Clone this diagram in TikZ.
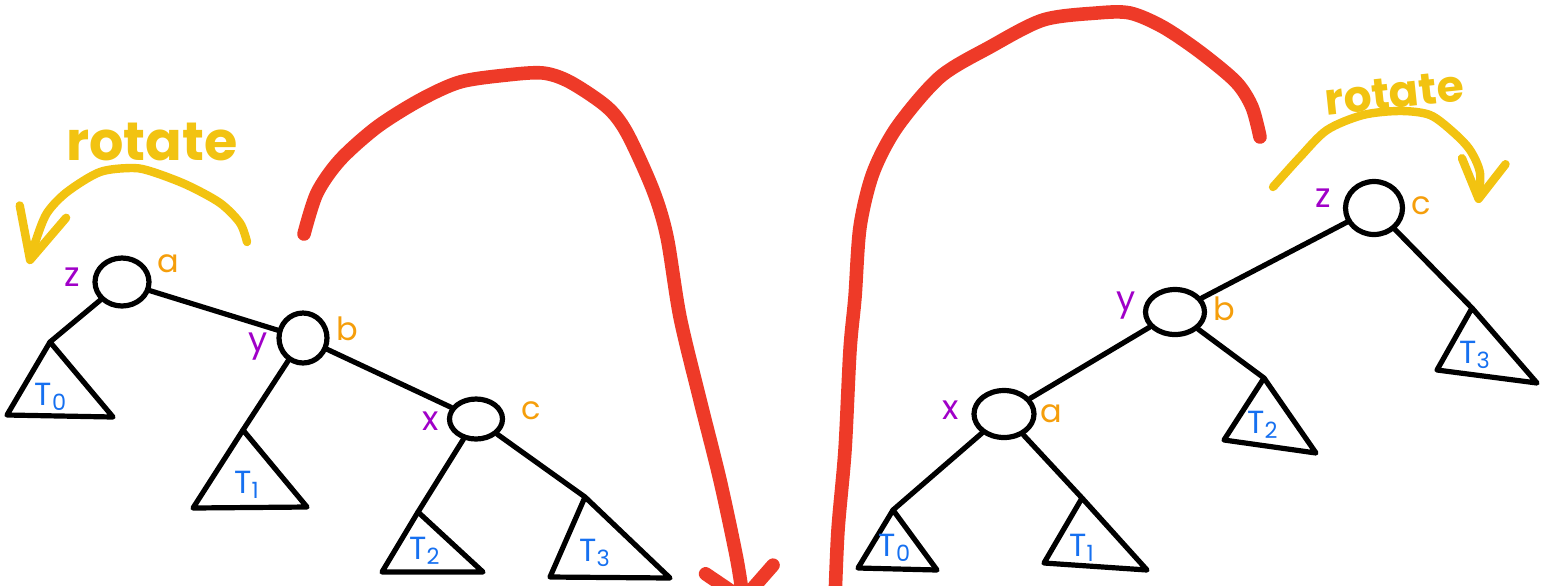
\documentclass[tikz,border=0pt]{standalone}
\usepackage{fontspec}
\setmainfont{Poppins}
\usetikzlibrary{
    shapes.geometric,
    arrows.meta
}
\definecolor{rojo}{HTML}{EE3A28}
\definecolor{amarillo}{HTML}{F2C311}
\definecolor{morado}{HTML}{A000C8}
\definecolor{naranja}{HTML}{F59E0B}
\definecolor{azul}{HTML}{1670F0}
\tikzset{
    nodo/.style={
        draw,
        ellipse,
        line width=2.6pt,
        inner sep=0pt
    },
    rama/.style={line width=2.6pt},
    sub/.style={draw, line width=2.6pt},
    clave/.style={text=morado, inner sep=0pt, font=\fontsize{17}{17}\selectfont},
    valor/.style={text=naranja, inner sep=0pt, font=\fontsize{16}{16}\selectfont},
    arbol/.style={text=azul, inner sep=0pt, font=\fontsize{16}{16}\selectfont},
    giro/.style={text=amarillo, inner sep=0pt, font=\bfseries\fontsize{27}{27}\selectfont},
    flecha/.style={amarillo, line width=4.2pt},
    salto/.style={rojo, line width=6.8pt}
}

\begin{document}
\begin{tikzpicture}[
    x=0.5pt, y=-0.5pt,
    line cap=round, line join=round
]
    \useasboundingbox (0,0) rectangle (1551,585);
    \clip (0,0) rectangle (1551,585);

    % Arbol izquierdo
    \node[nodo, minimum width=27pt, minimum height=24pt] (lz) at (122,282) {};
    \node[nodo, minimum width=24pt, minimum height=25pt] (ly) at (303,338) {};
    \node[nodo, minimum width=26.5pt, minimum height=20pt] (lx) at (476,419) {};

    \node[clave] (lzk) at (72,277)  {z};
    \node[valor] (lzv) at (168,264) {a};
    \node[clave] (lyk) at (258,347) {y};
    \node[valor] (lyv) at (347,329) {b};
    \node[clave] (lxk) at (431,421) {x};
    \node[valor] (lxv) at (531,411) {c};

    % Subarboles
    \coordinate (lt0) at (50,342);
    \coordinate (lt1) at (243,430);
    \coordinate (lt2) at (418,512);
    \coordinate (lt3) at (585,497);
    \draw[sub] (lt0) -- (7,415) -- (113,417) -- cycle;
    \draw[sub] (lt1) -- (193,508) -- (307,507) -- cycle;
    \draw[sub] (lt2) -- (382,572) -- (483,572) -- cycle;
    \draw[sub] (lt3) -- (550,577) -- (670,578) -- cycle;
    \node[arbol] (lt0l) at (51,397)  {T\textsubscript{0}};
    \node[arbol] (lt1l) at (247,485) {T\textsubscript{1}};
    \node[arbol] (lt2l) at (425,551) {T\textsubscript{2}};
    \node[arbol] (lt3l) at (595,553) {T\textsubscript{3}};

    \path[rama]
        (lz)
            edge (lt0)
            edge (ly)
        (ly)
            edge (lt1)
            edge (lx)
        (lx)
            edge (lt2)
            edge (lt3);

    % Arbol derecho
    \node[nodo, minimum width=28.5pt, minimum height=26.5pt] (rz) at (1374,208) {};
    \node[nodo, minimum width=29.5pt, minimum height=22.5pt] (ry) at (1175,312) {};
    \node[nodo, minimum width=30pt, minimum height=23.5pt]   (rx) at (1004,414) {};

    \node[clave] (rzk) at (1323,198) {z};
    \node[valor] (rzv) at (1421,206) {c};
    \node[clave] (ryk) at (1126,306) {y};
    \node[valor] (ryv) at (1224,309) {b};
    \node[clave] (rxk) at (951,410)  {x};
    \node[valor] (rxv) at (1051,414) {a};

    \coordinate (rt0) at (893,510);
    \coordinate (rt1) at (1082,498);
    \coordinate (rt2) at (1264,378);
    \coordinate (rt3) at (1472,308);
    \draw[sub] (rt0) -- (858,568) -- (937,570) -- cycle;
    \draw[sub] (rt1) -- (1044,563) -- (1147,570) -- cycle;
    \draw[sub] (rt2) -- (1224,440) -- (1316,453) -- cycle;
    \draw[sub] (rt3) -- (1437,370) -- (1537,383) -- cycle;
    \node[arbol] (rt0l) at (895,548)  {T\textsubscript{0}};
    \node[arbol] (rt1l) at (1082,548) {T\textsubscript{1}};
    \node[arbol] (rt2l) at (1263,425) {T\textsubscript{2}};
    \node[arbol] (rt3l) at (1475,355) {T\textsubscript{3}};

    \path[rama]
        (rz)
            edge (ry)
            edge (rt3)
        (ry)
            edge (rx)
            edge (rt2)
        (rx)
            edge (rt0)
            edge (rt1);

    % Rotaciones
    \node[giro, anchor=base] (lgiro) at (152,160) {rotate};
    \node[giro, anchor=base, rotate=6, font=\bfseries\fontsize{22}{22}\selectfont]
        (rgiro) at (1396,108) {rotate};

    \draw[flecha, -{Straight Barb[round, length=25pt, width=24pt]}]
        plot[smooth] coordinates {(247,242) (240,223) (220,203) (187,185) (153,172)
            (133,168) (100,172) (67,192) (47,213) (36,240) (29,264)};
    \draw[flecha, -{Straight Barb[round, length=19pt, width=22pt]}]
        plot[smooth] coordinates {(1273,187) (1300,157) (1327,130) (1363,115) (1400,111)
            (1430,115) (1453,132) (1470,150) (1480,173) (1478,203)};

    % Saltos
    \draw[salto, -{Straight Barb[round, length=15pt, width=34pt]}]
        plot[smooth] coordinates {(304,234) (317,193) (340,160) (377,127) (420,100)
            (460,82) (507,75) (543,73) (570,82) (607,107) (627,133) (653,190)
            (667,237) (680,317) (700,400) (720,480) (737,560) (744,606)};
    \draw[salto]
        plot[smooth] coordinates {(1260,137) (1252,107) (1236,82) (1200,52) (1163,27)
            (1130,13) (1097,13) (1043,20) (990,47) (940,77) (897,127) (873,173)
            (860,227) (855,297) (850,350) (845,450) (838,530) (835,600)};

\end{tikzpicture}
\end{document}
